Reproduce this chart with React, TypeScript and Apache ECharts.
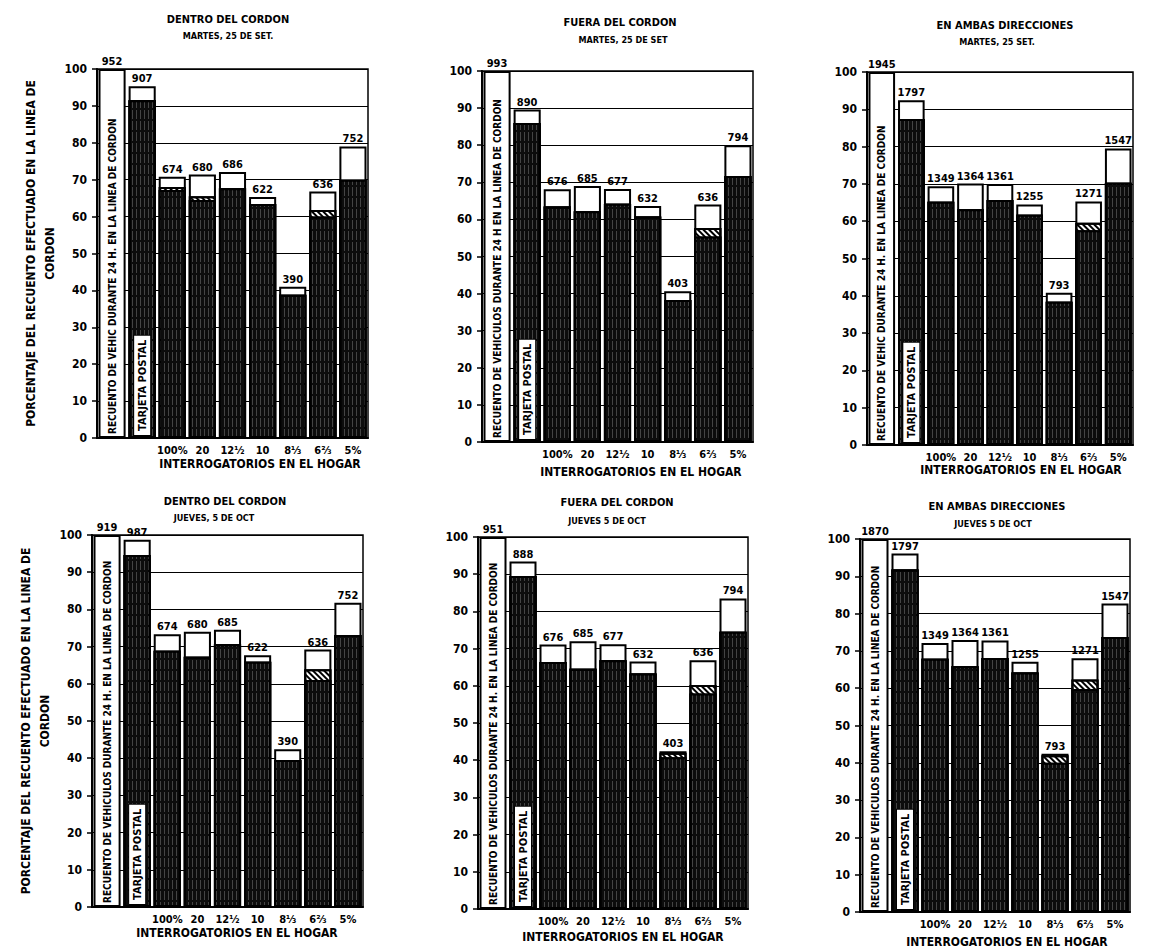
import React, { useEffect, useRef } from 'react';
import * as echarts from 'echarts';

const categories = ['', '', '100%', '20', '12½', '10', '8⅓', '6⅔', '5%'];

// Panel 1: Dentro del cordón, martes
const countsDentroMar = ['952', '907', '674', '680', '686', '622', '390', '636', '752'];
const totalDentroMar = [100, 95.3, 70.8, 71.4, 72.1, 65.3, 41.0, 66.8, 79.0];
const hatchDentroMar = [null, 91.5, 68.0, 65.5, 67.7, 63.4, 38.8, 61.8, 70.0];
const darkDentroMar = [null, 91.5, 67.2, 64.5, 67.7, 63.4, 38.8, 60.0, 70.0];

// Panel 2: Fuera del cordón, martes
const countsFueraMar = ['993', '890', '676', '685', '677', '632', '403', '636', '794'];
const totalFueraMar = [100, 89.6, 68.1, 69.0, 68.2, 63.6, 40.6, 64.0, 80.0];
const hatchFueraMar = [null, 86.0, 63.5, 62.2, 64.2, 60.8, 38.3, 57.7, 71.7];
const darkFueraMar = [null, 86.0, 63.5, 62.2, 64.2, 60.8, 38.3, 55.4, 71.7];

// Panel 3: En ambas direcciones, martes
const countsAmbasMar = ['1945', '1797', '1349', '1364', '1361', '1255', '793', '1271', '1547'];
const totalAmbasMar = [100, 92.4, 69.4, 70.1, 70.0, 64.5, 40.8, 65.3, 79.5];
const hatchAmbasMar = [null, 87.4, 65.2, 63.2, 65.7, 61.7, 38.4, 59.6, 70.3];
const darkAmbasMar = [null, 87.4, 65.2, 63.2, 65.7, 61.7, 38.4, 57.6, 70.3];

// Panel 4: Dentro del cordón, jueves
const countsDentroJue = ['919', '987', '674', '680', '685', '622', '390', '636', '752'];
const totalDentroJue = [100, 98.7, 73.3, 74.0, 74.5, 67.7, 42.4, 69.2, 81.8];
const hatchDentroJue = [null, 94.6, 68.9, 67.3, 70.6, 65.9, 39.5, 63.9, 73.1];
const darkDentroJue = [null, 94.6, 68.9, 67.3, 70.6, 65.9, 39.5, 61.0, 73.1];

// Panel 5: Fuera del cordón, jueves
const countsFueraJue = ['951', '888', '676', '685', '677', '632', '403', '636', '794'];
const totalFueraJue = [100, 93.4, 71.1, 72.0, 71.2, 66.5, 42.4, 66.9, 83.5];
const hatchFueraJue = [null, 89.5, 66.4, 64.6, 66.9, 63.3, 42.0, 60.2, 74.5];
const darkFueraJue = [null, 89.5, 66.4, 64.6, 66.9, 63.3, 40.8, 57.9, 74.5];

// Panel 6: En ambas direcciones, jueves
const countsAmbasJue = ['1870', '1797', '1349', '1364', '1361', '1255', '793', '1271', '1547'];
const totalAmbasJue = [100, 96.1, 72.1, 72.9, 72.8, 67.1, 42.4, 68.0, 82.7];
const hatchAmbasJue = [null, 91.8, 67.9, 65.9, 68.1, 64.2, 42.0, 62.3, 73.7];
const darkAmbasJue = [null, 91.8, 67.9, 65.9, 68.1, 64.2, 40.0, 59.8, 73.7];

const FONT = '"DejaVu Sans Condensed", "DejaVu Sans", sans-serif';

const panels = [
  {
    title: 'DENTRO DEL CORDON', sub: 'MARTES, 25 DE SET.',
    recuento: 'RECUENTO DE VEHIC DURANTE 24 H. EN LA LINEA DE CORDON',
    counts: countsDentroMar, total: totalDentroMar, hatch: hatchDentroMar, dark: darkDentroMar,
    grid: { left: 97, top: 69, width: 271, height: 369 },
    titleX: 228, titleY: 19, subX: 228, subY: 36, xTitleX: 260, xTitleY: 464, yName: true,
  },
  {
    title: 'FUERA DEL CORDON', sub: 'MARTES, 25 DE SET',
    recuento: 'RECUENTO DE VEHICULOS DURANTE 24 H EN LA LINEA DE CORDON',
    counts: countsFueraMar, total: totalFueraMar, hatch: hatchFueraMar, dark: darkFueraMar,
    grid: { left: 482, top: 71, width: 271, height: 371 },
    titleX: 620, titleY: 22, subX: 623, subY: 40, xTitleX: 641, xTitleY: 472, yName: false,
  },
  {
    title: 'EN AMBAS DIRECCIONES', sub: 'MARTES, 25 SET.',
    recuento: 'RECUENTO DE VEHIC DURANTE 24 H. EN LA LINEA DE CORDON',
    counts: countsAmbasMar, total: totalAmbasMar, hatch: hatchAmbasMar, dark: darkAmbasMar,
    grid: { left: 867, top: 72, width: 266, height: 373 },
    titleX: 1005, titleY: 25, subX: 997, subY: 42, xTitleX: 1021, xTitleY: 470, yName: false,
  },
  {
    title: 'DENTRO DEL CORDON', sub: 'JUEVES, 5 DE OCT',
    recuento: 'RECUENTO DE VEHICULOS DURANTE 24 H. EN LA LINEA DE CORDON',
    counts: countsDentroJue, total: totalDentroJue, hatch: hatchDentroJue, dark: darkDentroJue,
    grid: { left: 92, top: 535, width: 271, height: 372 },
    titleX: 225, titleY: 501, subX: 214, subY: 518, xTitleX: 237, xTitleY: 933, yName: true,
  },
  {
    title: 'FUERA DEL CORDON', sub: 'JUEVES 5 DE OCT',
    recuento: 'RECUENTO DE VEHICULOS DURANTE 24 H. EN LA LINEA DE CORDON',
    counts: countsFueraJue, total: totalFueraJue, hatch: hatchFueraJue, dark: darkFueraJue,
    grid: { left: 478, top: 537, width: 270, height: 372 },
    titleX: 617, titleY: 502, subX: 607, subY: 521, xTitleX: 623, xTitleY: 937, yName: false,
  },
  {
    title: 'EN AMBAS DIRECCIONES', sub: 'JUEVES 5 DE OCT',
    recuento: 'RECUENTO DE VEHICULOS DURANTE 24 H. EN LA LINEA DE CORDON',
    counts: countsAmbasJue, total: totalAmbasJue, hatch: hatchAmbasJue, dark: darkAmbasJue,
    grid: { left: 860, top: 539, width: 270, height: 373 },
    titleX: 997, titleY: 506, subX: 993, subY: 524, xTitleX: 1007, xTitleY: 942, yName: false,
  },
];

const darkDecal = {
  symbol: 'rect',
  symbolSize: 1,
  color: 'rgba(200,200,200,0.3)',
  dashArrayX: [1, 3],
  dashArrayY: [9, 2],
  rotation: 0,
};

const hatchDecal = {
  symbol: 'rect',
  symbolSize: 1,
  color: '#000',
  dashArrayX: [6, 0],
  dashArrayY: [2, 2],
  rotation: Math.PI / 4,
};

function buildOption() {
  const grid: any[] = [];
  const xAxis: any[] = [];
  const yAxis: any[] = [];
  const series: any[] = [];
  const graphic: any[] = [];

  panels.forEach((p, i) => {
    grid.push({
      ...p.grid,
      show: true,
      borderColor: '#000',
      borderWidth: 1.5,
      backgroundColor: 'transparent',
    });
    xAxis.push({
      type: 'category',
      gridIndex: i,
      data: categories,
      axisLine: { show: true, lineStyle: { color: '#000', width: 2 } },
      axisTick: { show: false },
      axisLabel: {
        interval: 0,
        margin: 7,
        color: '#000',
        fontFamily: FONT,
        fontWeight: 'bold',
        fontSize: 11,
      },
    });
    yAxis.push({
      type: 'value',
      gridIndex: i,
      min: 0,
      max: 100,
      interval: 10,
      name: p.yName ? 'PORCENTAJE DEL RECUENTO EFECTUADO EN LA LINEA DE\nCORDON' : '',
      nameLocation: 'middle',
      nameRotate: 90,
      nameGap: 38,
      nameTextStyle: {
        color: '#000',
        fontFamily: FONT,
        fontWeight: 'bold',
        fontSize: 12,
        lineHeight: 19,
      },
      axisLine: { show: true, lineStyle: { color: '#000', width: 2 } },
      axisTick: { show: true, length: 5, lineStyle: { color: '#000', width: 1.5 } },
      splitLine: { show: true, lineStyle: { color: '#000', width: 1 } },
      axisLabel: {
        margin: 10,
        color: '#000',
        fontFamily: FONT,
        fontWeight: 'bold',
        fontSize: 12,
      },
    });

    const base = {
      type: 'bar',
      xAxisIndex: i,
      yAxisIndex: i,
      barGap: '-100%',
      barCategoryGap: '10%',
    };

    // Outer bar (white top part with outline) + count label
    series.push({
      ...base,
      name: 'total' + i,
      data: p.total,
      itemStyle: { color: '#fff', borderColor: '#000', borderWidth: 2 },
      label: {
        show: true,
        position: 'top',
        distance: 2,
        color: '#000',
        fontFamily: FONT,
        fontWeight: 'bold',
        fontSize: 11,
        formatter: (prm: any) => p.counts[prm.dataIndex],
      },
    });
    // Hatched band
    series.push({
      ...base,
      name: 'hatch' + i,
      data: p.hatch.map((v) => (v == null ? '-' : v)),
      itemStyle: { color: '#fff', borderColor: '#000', borderWidth: 2, decal: hatchDecal },
    });
    // Dark (hatched vertical) part
    series.push({
      ...base,
      name: 'dark' + i,
      data: p.dark.map((v, k) => {
        if (v == null) return '-';
        if (k === 1) {
          return {
            value: v,
            label: {
              show: true,
              position: 'insideBottom',
              rotate: 90,
              align: 'left',
              verticalAlign: 'middle',
              distance: 3,
              formatter: 'TARJETA POSTAL',
              color: '#000',
              fontFamily: FONT,
              fontWeight: 'bold',
              fontSize: 11,
              backgroundColor: '#fff',
              borderColor: '#000',
              borderWidth: 1,
              padding: [3, 4, 2, 4],
            },
          };
        }
        return v;
      }),
      itemStyle: { color: '#0c0c0c', borderColor: '#000', borderWidth: 2, decal: darkDecal },
    });
    // Vertical legend text inside the full-count bar
    series.push({
      ...base,
      name: 'rec' + i,
      data: p.total.map((v, k) => (k === 0 ? v : '-')),
      itemStyle: { color: 'rgba(0,0,0,0)' },
      label: {
        show: true,
        position: 'insideBottom',
        rotate: 90,
        align: 'left',
        verticalAlign: 'middle',
        distance: 4,
        formatter: p.recuento,
        color: '#000',
        fontFamily: FONT,
        fontWeight: 'bold',
        fontSize: 10,
      },
    });

    graphic.push({
      type: 'text',
      x: p.titleX,
      y: p.titleY,
      style: {
        text: p.title,
        fill: '#000',
        font: `bold 11px ${FONT}`,
        align: 'center',
        verticalAlign: 'middle',
      },
    });
    graphic.push({
      type: 'text',
      x: p.subX,
      y: p.subY,
      style: {
        text: p.sub,
        fill: '#000',
        font: `bold 9px ${FONT}`,
        align: 'center',
        verticalAlign: 'middle',
      },
    });
    graphic.push({
      type: 'text',
      x: p.xTitleX,
      y: p.xTitleY,
      style: {
        text: 'INTERROGATORIOS EN EL HOGAR',
        fill: '#000',
        font: `bold 12px ${FONT}`,
        align: 'center',
        verticalAlign: 'middle',
      },
    });
  });

  return {
    animation: false,
    backgroundColor: '#fff',
    grid,
    xAxis,
    yAxis,
    series,
    graphic,
  };
}

export default function App() {
  const ref = useRef<HTMLDivElement>(null);
  useEffect(() => {
    document.body.style.margin = '0';
    if (!ref.current) return;
    const chart = echarts.init(ref.current, null, { renderer: 'svg' });
    chart.setOption(buildOption() as any);
    return () => {
      chart.dispose();
    };
  }, []);
  return <div ref={ref} style={{ width: 1156, height: 951 }} />;
}
